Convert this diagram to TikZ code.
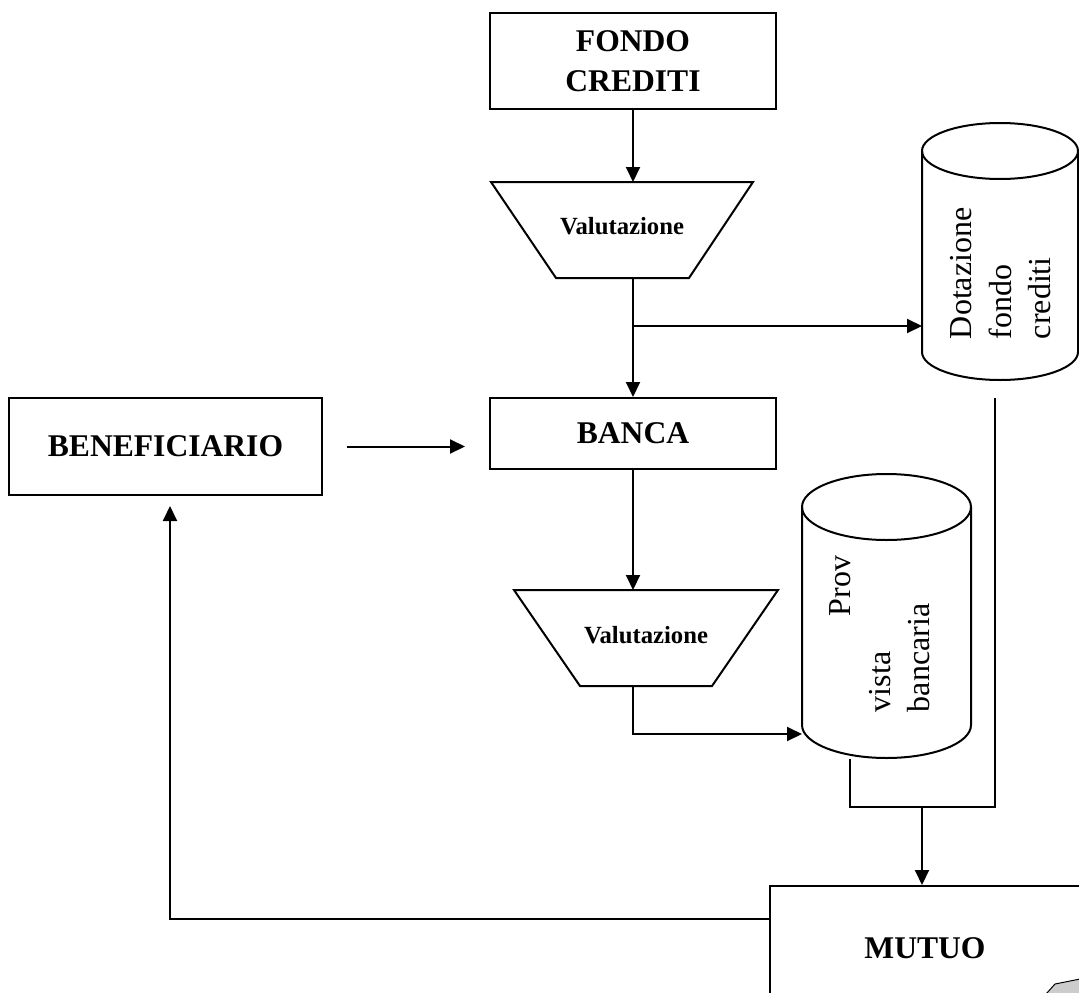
\documentclass[tikz,border=0pt]{standalone}
\usepackage{fontspec}
\setmainfont{Liberation Serif}
\usetikzlibrary{arrows.meta,calc}
\begin{document}
\begin{tikzpicture}[x=1pt,y=-1pt,
  line width=2pt,
  arr/.style={-{Triangle[length=15pt,width=14pt]}},
  box/.style={draw, rectangle, inner sep=0pt, font=\bfseries\fontsize{31.6}{40}\selectfont, align=center},
  boxtext/.style={inner sep=0pt, font=\bfseries\fontsize{31.6}{40}\selectfont},
  lbl/.style={inner sep=0pt, font=\bfseries\fontsize{24.7}{30}\selectfont},
  vlbl/.style={inner sep=0pt, rotate=90, align=left, font=\fontsize{32}{39.5}\selectfont, anchor=west},
  holder/.style={inner sep=0pt, outer sep=0pt, rectangle}
]
\clip (0,0) rectangle (1079,993);
\fill[white] (0,0) rectangle (1079,993);

% boxes
\node[box, minimum width=286pt, minimum height=96pt] (fondo) at (633,61) {FONDO\\CREDITI};
\node[box, minimum width=286pt, minimum height=71pt] (banca) at (633,433.5) {BANCA};
\node[box, minimum width=313pt, minimum height=97pt] (benef) at (165.5,446.5) {BENEFICIARIO};
\node[box, anchor=north west, minimum width=312pt, minimum height=200pt] (mutuo) at (769,885) {};
\node[boxtext] (mutuotxt) at (925,948) {MUTUO};

% trapezoids
\draw (491,182) -- (753,182) -- (689,278) -- (556,278) -- cycle;
\node[lbl] (val1) at (622,226) {Valutazione};
\draw (514,590) -- (778,590) -- (712,686) -- (580,686) -- cycle;
\node[lbl] (val2) at (646,635) {Valutazione};
\coordinate (t1) at (633,182);
\coordinate (t1b) at (633,278);
\coordinate (t2) at (633,590);
\coordinate (t2b) at (633,686);
\coordinate (j1) at (633,326);

% cylinder 1
\node[holder, minimum width=156pt, minimum height=201pt] (cyl1) at (1000,251.5) {};
\draw (1000,151) ellipse [x radius=78pt, y radius=28pt];
\draw (922,151) -- (922,352) arc[start angle=180, end angle=360, x radius=78pt, y radius=28pt] -- (1078,151);
\node[vlbl] (cyl1txt) at (1001,340) {Dotazione\\fondo\\crediti};

% cylinder 2
\node[holder, minimum width=169pt, minimum height=218pt] (cyl2) at (886.5,616) {};
\draw (886.5,507) ellipse [x radius=84.5pt, y radius=33pt];
\draw (802,507) -- (802,725) arc[start angle=180, end angle=360, x radius=84.5pt, y radius=33pt] -- (971,507);
\node[vlbl] (cyl2txt) at (880,713) {\hspace*{96pt}Prov\\vista\\bancaria};

% connectors
\draw[arr] (fondo.south) -- (t1);
\draw[arr] (t1b) -- (banca.north);
\draw[arr] (j1) -- (j1 -| cyl1.west);
\draw[arr] (banca.south) -- (t2);
\draw[arr] (t2b) |- (cyl2.west |- 0,734);
\draw[arr, shorten <=24pt, shorten >=24pt] (benef.east) -- (benef.east -| banca.west);

\coordinate (c2out) at (850,759);
\coordinate (c1out) at (995,398);
\coordinate (m) at (922,807);
\draw (c2out) |- (m) -| (c1out);
\draw[arr] (m) -- (m |- mutuo.north);
\draw[arr, shorten >=10pt] (mutuo.west |- 0,919) -| (benef.south -| 170,0);

% page curl
\filldraw[fill=gray!40, line width=1pt] (1046,994) -- (1055,984) -- (1080,979) -- (1080,994) -- cycle;
\end{tikzpicture}
\end{document}
